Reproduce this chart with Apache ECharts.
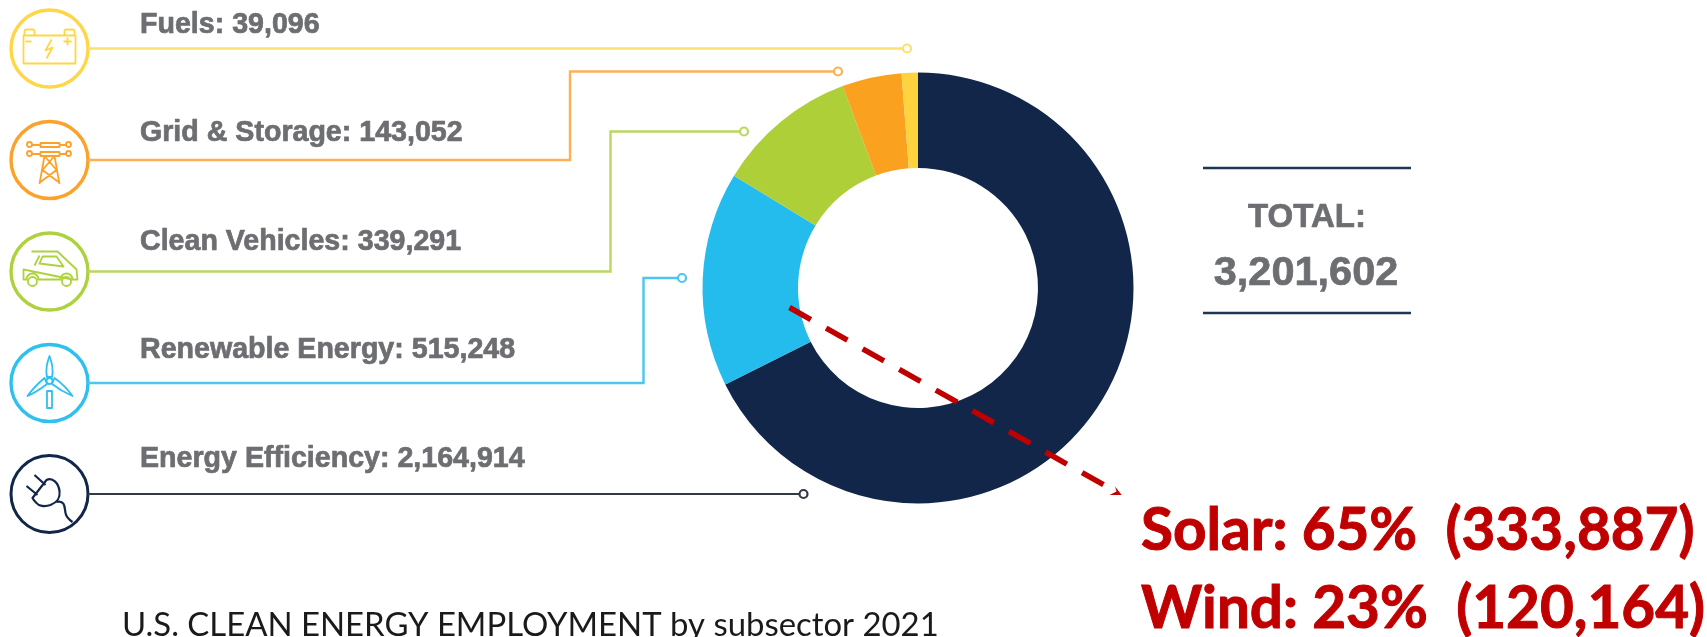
<!DOCTYPE html>
<html>
<head>
<meta charset="utf-8">
<title>U.S. Clean Energy Employment by subsector 2021</title>
<style>
  html, body { margin: 0; padding: 0; background: #fff; overflow: hidden; }
  #chart { width: 1707px; height: 637px; }
</style>
<script src="https://cdn.jsdelivr.net/npm/echarts@6/dist/echarts.min.js"></script>
</head>
<body>
<div id="chart"></div>
<script>
// Subsector employment, in drawing order clockwise from twelve o'clock
const sliceNames = ['Energy Efficiency', 'Renewable Energy', 'Clean Vehicles', 'Grid & Storage', 'Fuels'];
const sliceValues = [2164914, 515248, 339291, 143052, 39096];
const sliceColors = ['#12264A', '#24BBED', '#AECF38', '#FAA220', '#FFD33F'];
const leaderColors = ['#333A45', '#4CC5F0', '#B9D85F', '#FDB155', '#FFDF6E'];
const iconColors = ['#12264A', '#2FC0EF', '#AED23F', '#FCA22B', '#FFD746'];

const totalLabel = 'TOTAL:';
const totalValue = '3,201,602';
const captionText = 'U.S. CLEAN ENERGY EMPLOYMENT by subsector 2021';
const calloutLines = ['Solar: 65%  (333,887)', 'Wind: 23%  (120,164)'];

// Legend row layout: vertical position of each text and leader, and the leader's route
const labelY = [459.5, 350.5, 242.5, 133.5, 25.5];
const iconY = [494, 383, 271.5, 160, 48.5];
const leaderRoutes = [
  [[803.5, 494]],
  [[643.5, 383], [643.5, 278], [682, 278]],
  [[610.5, 271.5], [610.5, 131.5], [744, 131.5]],
  [[570, 160], [570, 71.5], [838, 71.5]],
  [[907, 48.5]]
];

// Line-art pictograms, centred on the circle they sit in
const iconPaths = [
  'M-15-19L-4-9M-23-8L-12 1M-3-14C3-17 9-11 10-3C11 6 6 9 1 11C-5 13-11 12-13 9C-15 7-16 6-17 4ZM7 8C16 6 15 14 16 19C17 24 20 26 23 28',
  'M0-27C-3-19-4-12-2.5-6L2.5-6C4-12 3-19 0-27ZM-22 13C-17 6-11 0-5-5L-2.5 1C-9 6-15 10-22 13ZM23 13C18 6 12 0 5-5L2.5 1C9 6 16 10 23 13ZM-2.5 8H2.5V25H-2.5ZM3-2A3 3 0 1 1-3-2A3 3 0 1 1 3-2Z',
  'M-18-20H8L27-2L28 8H23M23 8A6 6 0 0 0 11 8H-11A6 6 0 0 0-23 8H-26L-26-2ZM-7-15H7L14-5L-10-8ZM-10-16L-15-6M-12.5 10A4.5 4.5 0 1 1-21.5 10A4.5 4.5 0 1 1-12.5 10ZM21.5 10A4.5 4.5 0 1 1 12.5 10A4.5 4.5 0 1 1 21.5 10Z',
  'M-9-17H10V-13H-9ZM-9-8H10V-4H-9ZM-9-15H-17M10-15H16M-9-6H-17M10-6H16M-17.5-15.5A2.5 2.5 0 1 1-22.5-15.5A2.5 2.5 0 1 1-17.5-15.5ZM21.5-15.5A2.5 2.5 0 1 1 16.5-15.5A2.5 2.5 0 1 1 21.5-15.5ZM-17.5-6.5A2.5 2.5 0 1 1-22.5-6.5A2.5 2.5 0 1 1-17.5-6.5ZM21.5-6.5A2.5 2.5 0 1 1 16.5-6.5A2.5 2.5 0 1 1 21.5-6.5ZM-5-4L-10 24M5-4L10 24M-5-4L7 10L-9 22M5-4L-7 10L9 22',
  'M-26-13H26V15H-26ZM-25-13V-17Q-25-19-23-19H-17Q-15-19-15-17V-13M15-13V-17Q15-19 17-19H23Q25-19 25-17V-13M-24-7H-18M14-7H22M18-11V-3M2-9L-4 2L3-1L-3 10'
];

// The graphic component only knows named shapes, so each pictogram is registered as one
iconPaths.forEach((d, i) => {
  echarts.graphic.registerShape('pictogram' + i, echarts.graphic.extendPath(d, {}));
});

const centre = [918, 288];
const ringRadius = [120, 215.5];

const pieData = sliceNames.map((name, i) => ({
  name,
  value: sliceValues[i],
  itemStyle: { color: sliceColors[i] }
}));

const graphics = [];

// Legend rows: icon ring, pictogram, caption text, elbowed leader with an open dot at its end
sliceNames.forEach((name, i) => {
  const y = iconY[i];
  graphics.push({
    type: 'circle', z: 5,
    shape: { cx: 49.5, cy: y, r: 38.5 },
    style: { fill: 'none', stroke: iconColors[i], lineWidth: i === 0 ? 3 : 3.4 }
  });
  graphics.push({
    type: 'pictogram' + i, z: 5, x: 49.5, y: y,
    style: { fill: 'none', stroke: iconColors[i], lineWidth: i === 0 ? 2.2 : 1.8, lineJoin: 'round' }
  });
  const route = [[88, y]].concat(leaderRoutes[i]);
  graphics.push({
    type: 'polyline', z: 5,
    shape: { points: route },
    style: { fill: 'none', stroke: leaderColors[i], lineWidth: i === 0 ? 2 : 2.4 }
  });
  const end = route[route.length - 1];
  graphics.push({
    type: 'circle', z: 6,
    shape: { cx: end[0], cy: end[1], r: 4 },
    style: { fill: '#fff', stroke: leaderColors[i], lineWidth: 2.2 }
  });
  graphics.push({
    type: 'text', z: 6,
    style: {
      x: 140, y: labelY[i],
      text: name + ': ' + sliceValues[i].toLocaleString('en-US'),
      fill: '#6D6E71', stroke: '#6D6E71', lineWidth: 0.7,
      font: 'bold 28.6px "Liberation Sans"',
      textAlign: 'left', textVerticalAlign: 'middle'
    }
  });
});

// Total panel between its two rules
[168, 313].forEach((y) => {
  graphics.push({
    type: 'line', z: 5,
    shape: { x1: 1203, y1: y, x2: 1411, y2: y },
    style: { stroke: '#1F3555', lineWidth: 2.4 }
  });
});
graphics.push({
  type: 'text', z: 6,
  style: { x: 1307, y: 218, text: totalLabel, fill: '#6D6E71', stroke: '#6D6E71', lineWidth: 0.7, font: 'bold 33px "Liberation Sans"', textAlign: 'center', textVerticalAlign: 'middle' }
});
graphics.push({
  type: 'text', z: 6,
  style: { x: 1306, y: 274, text: totalValue, fill: '#6D6E71', stroke: '#6D6E71', lineWidth: 0.7, font: 'bold 41.5px "Liberation Sans"', textAlign: 'center', textVerticalAlign: 'middle' }
});

// Dashed call-out from the renewable slice to the solar and wind shares
graphics.push({
  type: 'line', z: 8,
  shape: { x1: 789.5, y1: 307.5, x2: 1104, y2: 485 },
  style: { stroke: '#C00000', lineWidth: 5.5, lineDash: [24.5, 17.5] }
});
graphics.push({
  type: 'polygon', z: 8,
  shape: { points: [[1115, 486.5], [1121.7, 495], [1109.5, 495], [1116.5, 491.5]] },
  style: { fill: '#C00000' }
});
calloutLines.forEach((line, i) => {
  graphics.push({
    type: 'text', z: 8,
    style: {
      x: 1141, y: [531, 609][i],
      text: line, fill: '#C00000', stroke: '#C00000', lineWidth: 1,
      font: 'bold 58.4px Lato',
      textAlign: 'left', textVerticalAlign: 'middle'
    }
  });
});

// Caption along the bottom edge
graphics.push({
  type: 'text', z: 6,
  style: {
    x: 122, y: 625,
    text: captionText, fill: '#1A1A1A',
    font: '32.9px Lato',
    textAlign: 'left', textVerticalAlign: 'middle'
  }
});

const chart = echarts.init(document.getElementById('chart'), null, { renderer: 'canvas' });
chart.setOption({
  animation: false,
  backgroundColor: '#ffffff',
  series: [{
    type: 'pie',
    center: centre,
    radius: ringRadius,
    startAngle: 90,
    clockwise: true,
    label: { show: false },
    labelLine: { show: false },
    emphasis: { disabled: true },
    data: pieData
  }],
  graphic: { elements: graphics }
});
</script>
</body>
</html>
